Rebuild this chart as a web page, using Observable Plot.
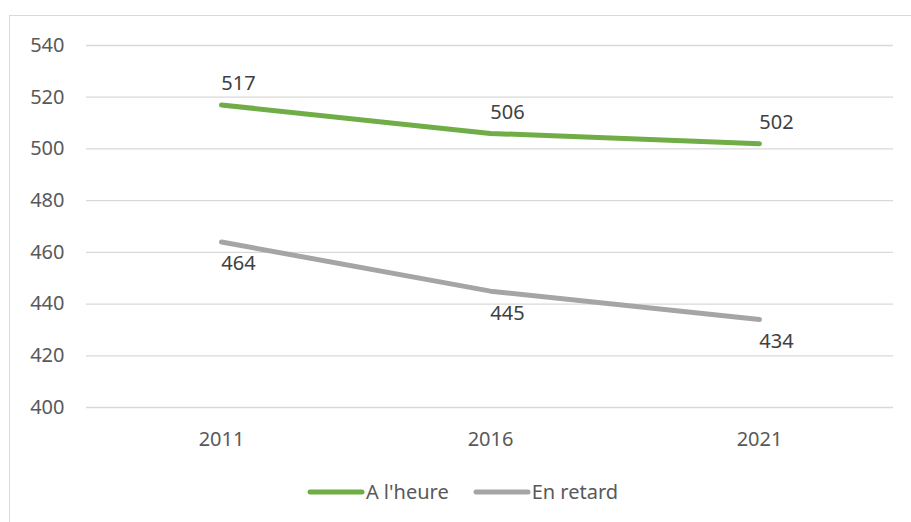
<!DOCTYPE html>
<html>
<head>
<meta charset="utf-8">
<script src="https://cdn.jsdelivr.net/npm/d3@7"></script>
<script src="https://cdn.jsdelivr.net/npm/@observablehq/plot@0.6"></script>
<style>
  body { margin: 0; background: #fff; font-family: "Noto Sans", sans-serif; }
  #frame { position: absolute; left: 9px; top: 15px; width: 905px; height: 520px;
           border-left: 1px solid #d9d9d9; border-top: 1px solid #d9d9d9; background: #fff; }
  #chart { position: absolute; left: 0; top: 0; }
  #legend { position: absolute; top: 462px; left: 0; width: 905px; display: flex; justify-content: center;
            gap: 24px; font-size: 20px; color: #595959; }
  .item { display: flex; align-items: center; }
  .item svg { margin-right: 1px; }
</style>
</head>
<body>
<div id="frame">
  <div id="chart"></div>
  <div id="legend"></div>
</div>
<script>
const years = ["2011", "2016", "2021"];
const aLHeure = [517, 506, 502];
const enRetard = [464, 445, 434];
const yTicks = [400, 420, 440, 460, 480, 500, 520, 540];
const seriesNames = ["A l'heure", "En retard"];
const seriesColors = ["#70AD47", "#A5A5A5"];

const green = years.map((y, i) => ({year: y, value: aLHeure[i]}));
const grey = years.map((y, i) => ({year: y, value: enRetard[i]}));

const chart = Plot.plot({
  width: 901,
  height: 445,
  marginLeft: 76,
  marginRight: 18,
  marginTop: 29,
  marginBottom: 54,
  style: {fontFamily: "Noto Sans, sans-serif", fontSize: "20px", color: "#595959", background: "transparent"},
  x: {type: "point", domain: years, padding: 0.5, label: null},
  y: {domain: [400, 540], label: null},
  marks: [
    Plot.ruleY(yTicks, {stroke: "#d9d9d9", strokeWidth: 1.3}),
    Plot.axisY({ticks: yTicks, tickSize: 0, tickPadding: 22, fontSize: 20, fill: "#595959"}),
    Plot.axisX({tickSize: 0, tickPadding: 24, fontSize: 20, fill: "#595959"}),
    Plot.line(green, {x: "year", y: "value", stroke: seriesColors[0], strokeWidth: 5, strokeLinecap: "round", strokeLinejoin: "round"}),
    Plot.line(grey, {x: "year", y: "value", stroke: seriesColors[1], strokeWidth: 5, strokeLinecap: "round", strokeLinejoin: "round"}),
    Plot.text(green, {x: "year", y: "value", text: d => String(d.value), dx: 17, dy: -21, fontSize: 20, fill: "#404040"}),
    Plot.text(grey, {x: "year", y: "value", text: d => String(d.value), dx: 17, dy: 22, fontSize: 20, fill: "#404040"})
  ]
});
document.getElementById("chart").appendChild(chart);

const legend = document.getElementById("legend");
seriesNames.forEach((name, i) => {
  const item = document.createElement("div");
  item.className = "item";
  item.innerHTML = `<svg width="58" height="10"><line x1="3" y1="5" x2="55" y2="5" stroke="${seriesColors[i]}" stroke-width="5" stroke-linecap="round"/></svg><span>${name}</span>`;
  legend.appendChild(item);
});
</script>
</body>
</html>
